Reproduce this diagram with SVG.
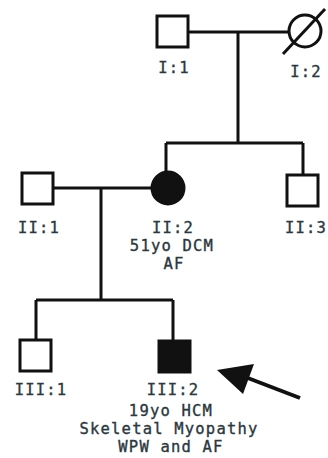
<svg xmlns="http://www.w3.org/2000/svg" width="328" height="458" viewBox="0 0 328 458">
<style>
.ln{stroke:#111;stroke-width:3;fill:none}
.open{fill:#fff;stroke:#111;stroke-width:3}
.aff{fill:#111;stroke:#111;stroke-width:3}
text{font-family:"DejaVu Sans Mono","Liberation Mono",monospace;font-size:15.5px;letter-spacing:1.2px;fill:#2a3840;stroke:#2a3840;stroke-width:0.35;text-anchor:middle}
</style>
<rect width="328" height="458" fill="#fff"/>
<g id="connectors">
<path class="ln" d="M188 32H289"/>
<path class="ln" d="M238 32V143"/>
<path class="ln" d="M166 143H303"/>
<path class="ln" d="M166 143V172"/>
<path class="ln" d="M303 143V175"/>
<path class="ln" d="M53 188H152"/>
<path class="ln" d="M101 188V300"/>
<path class="ln" d="M36 300H173"/>
<path class="ln" d="M36 300V340"/>
<path class="ln" d="M173 300V340"/>
</g>
<g id="I1"><rect class="open" x="157" y="16" width="31" height="31"/><text x="174" y="73">I:1</text></g>
<g id="I2"><circle class="open" cx="305" cy="31" r="16"/><path class="ln" d="M283 54L325 9"/><text x="306" y="77">I:2</text></g>
<g id="II1"><rect class="open" x="22" y="173" width="31" height="31"/><text x="39" y="233">II:1</text></g>
<g id="II2"><circle class="aff" cx="168" cy="188" r="16"/><text x="173" y="233">II:2</text><text x="172" y="251">51yo DCM</text><text x="174" y="269">AF</text></g>
<g id="II3"><rect class="open" x="287" y="175" width="31" height="31"/><text x="306" y="233">II:3</text></g>
<g id="III1"><rect class="open" x="20" y="340" width="31" height="31"/><text x="41" y="395">III:1</text></g>
<g id="III2"><rect class="aff" x="159" y="341" width="31" height="31"/><text x="173" y="395">III:2</text><text x="171" y="416">19yo HCM</text><text x="169" y="434">Skeletal Myopathy</text><text x="171" y="452">WPW and AF</text></g>
<g id="arrow"><path d="M300 398L240 375" stroke="#111" stroke-width="4" fill="none"/><polygon points="217,370 254,364 243,394" fill="#111"/></g>
</svg>
